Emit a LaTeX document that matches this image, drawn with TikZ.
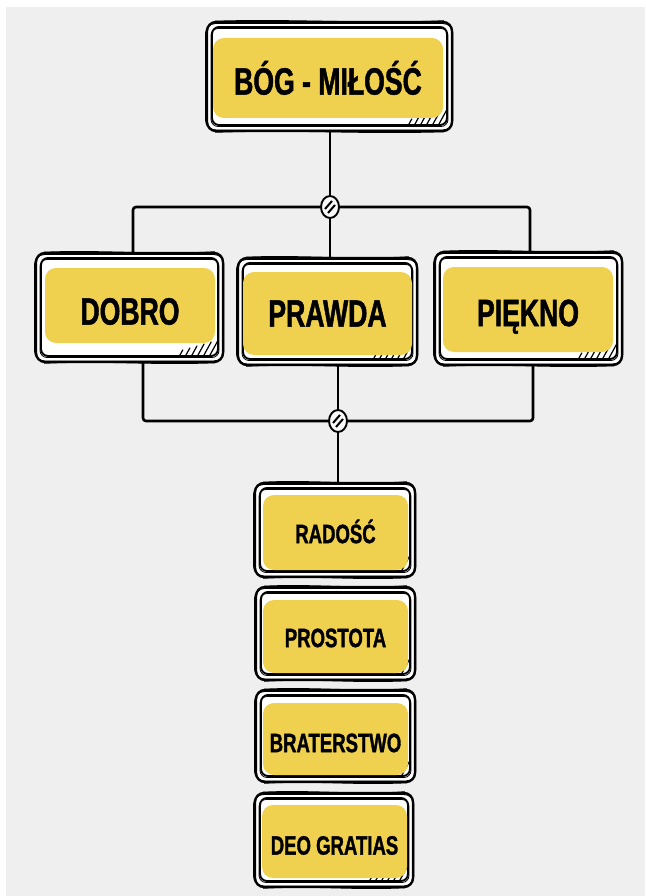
\documentclass[tikz,border=0pt]{standalone}
\usepackage{fontspec}
\newfontfamily\lab{Liberation Sans}[FakeStretch=0.7,FakeBold=1.2]
\usetikzlibrary{shapes.geometric,calc}
\definecolor{yel}{HTML}{EFD04F}
\definecolor{bgray}{HTML}{EFEFEF}
\pgfdeclarelayer{bg}
\pgfsetlayers{bg,main}
\tikzset{
  frm/.style={draw=none, rectangle, inner sep=0pt},
  ybox/.style={fill=yel, rounded corners=11pt, inner sep=0pt, text=black},
  big/.style={font=\lab\bfseries\fontsize{38}{40}\selectfont, text depth=0pt},
  small/.style={font=\lab\bfseries\fontsize{26.5}{28}\selectfont, text depth=0pt},
  conn/.style={line width=2.6pt, black},
  junc/.style={ellipse, draw, line width=1.9pt, fill=white!60!bgray, minimum width=18pt, minimum height=22pt, inner sep=0pt},
  hst/.style={line width=1.2pt, line cap=round},
}
\newcommand\skframe[5]{%
  \node[frm, minimum width={(#4-#2)*1pt}, minimum height={(#5-#3)*1pt}] (#1) at ({(#2+#4)/2},{(#3+#5)/2}) {};
  \fill[white, rounded corners=8pt] (#2+1,#3+1) rectangle (#4-1,#5-1);
  \draw[line width=2.4pt, rounded corners=9pt] (#2,#3) rectangle (#4,#5);
  \draw[line width=0.9pt, rounded corners=10pt] (#2-1.5,#3+1.5) rectangle (#4+1,#5-1);
  \draw[line width=1.5pt] (#2+8,#3-0.5) .. controls ({#2+(#4-#2)*0.35},#3-3) and ({#2+(#4-#2)*0.65},#3+2.5) .. (#4-8,#3-1);
  \draw[line width=1.5pt] (#2+8,#5+1) .. controls ({#2+(#4-#2)*0.4},#5-2) and ({#2+(#4-#2)*0.6},#5+3) .. (#4-8,#5+0.5);
  \draw[line width=1.9pt, rounded corners=7pt] (#2+5,#3+5) rectangle (#4-5,#5-6);
  \draw[line width=0.8pt, rounded corners=7pt] (#2+4,#3+6.5) rectangle (#4-4,#5-4.5);
  \foreach \k in {0,...,5} {\draw[hst] ({#4-13-6*\k},#5-7) -- ++({0.55*(15-2*\k)},{-(15-2*\k)});}
}
\begin{document}
\begin{tikzpicture}[x=1pt,y=-1pt]
\useasboundingbox (0,0) rectangle (645,896);
% frames
\skframe{f-top}{207}{22}{452}{131}
\skframe{f-dobro}{36}{253}{223}{362}
\skframe{f-prawda}{238}{258}{417}{365}
\skframe{f-piekno}{435}{252}{622}{365}
\skframe{f-radosc}{255}{483}{415}{577}
\skframe{f-prostota}{256}{587}{415}{680}
\skframe{f-braterstwo}{256}{690}{415}{782}
\skframe{f-deo}{255}{793}{413}{887}
% yellow boxes with text
\node[ybox, big, minimum width=230pt, minimum height=80pt, text height=33.1pt] (top) at (328,78) {BÓG - MIŁOŚĆ};
\node[ybox, big, minimum width=170pt, minimum height=75pt, text height=38.1pt] (dobro) at (130,305.5) {DOBRO};
\node[ybox, big, minimum width=169pt, minimum height=83pt, text height=26.1pt] (prawda) at (327.5,313.5) {PRAWDA};
\node[ybox, big, minimum width=170pt, minimum height=85pt, text height=33.1pt] (piekno) at (528,309.5) {PIĘKNO};
\node[ybox, small, minimum width=145pt, minimum height=75pt, text height=21.2pt] (radosc) at (335.5,532.5) {RADOŚĆ};
\node[ybox, small, minimum width=145pt, minimum height=73pt, text height=21.2pt] (prostota) at (335.5,636.5) {PROSTOTA};
\node[ybox, small, minimum width=145pt, minimum height=72pt, text height=26.2pt] (braterstwo) at (335.5,739) {BRATERSTWO};
\node[ybox, small, minimum width=145pt, minimum height=73pt, text height=26.2pt] (deo) at (334.5,841.5) {DEO GRATIAS};
% junctions
\node[junc] (j1) at (330,207) {};
\node[junc] (j2) at (338,421) {};
\foreach \j in {j1,j2} {
  \draw[line width=2pt] ($(\j.center)+(-5,2)$) -- ($(\j.center)+(2,-6)$);
  \draw[line width=2pt] ($(\j.center)+(-2,6)$) -- ($(\j.center)+(5,-2)$);
}
\begin{pgfonlayer}{bg}
  \fill[white] (0,0) rectangle (645,896);
  \fill[bgray] (6,7) rectangle (645,896);
  \draw[conn] (f-top.south -| j1) -- (j1.north);
  \draw[conn, rounded corners=3pt] (j1.west) -| ([xshift=3.5pt]f-dobro.north);
  \draw[conn, rounded corners=3pt] (j1.east) -| ([xshift=1.5pt]f-piekno.north);
  \draw[conn] (j1.south) -- (f-prawda.north -| j1);
  \draw[conn, rounded corners=3pt] ([xshift=13.5pt]f-dobro.south) |- (j2.west);
  \draw[conn, rounded corners=3pt] ([xshift=4.5pt]f-piekno.south) |- (j2.east);
  \draw[conn] (f-prawda.south -| j2) -- (j2.north);
  \draw[conn] (j2.south) -- (f-radosc.north -| j2);
\end{pgfonlayer}
\end{tikzpicture}
\end{document}
